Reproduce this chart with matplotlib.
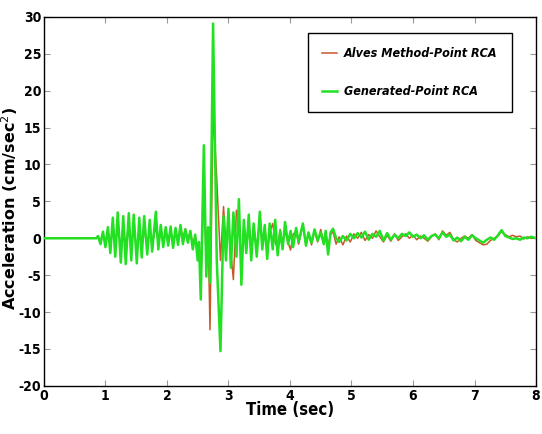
import numpy as np
import matplotlib
matplotlib.use('Agg')
import matplotlib.pyplot as plt
from matplotlib import font_manager

plt.rcParams['axes.unicode_minus'] = False

# time samples (sec) and accelerations (cm/sec^2)
time_sec = [0.00, 0.85, 0.88, 0.92, 0.96, 1.00, 1.04, 1.08, 1.12, 1.16, 1.20, 1.25, 1.29,
            1.33, 1.38, 1.42, 1.46, 1.51, 1.55, 1.59, 1.63, 1.68, 1.72, 1.76, 1.82, 1.86,
            1.90, 1.94, 1.98, 2.02, 2.06, 2.10, 2.14, 2.18, 2.22, 2.26, 2.30, 2.34, 2.38,
            2.42, 2.46, 2.50, 2.52, 2.55, 2.60, 2.64, 2.67, 2.70, 2.75, 2.81, 2.87, 2.92,
            2.96, 3.00, 3.04, 3.08, 3.13, 3.17, 3.21, 3.25, 3.29, 3.33, 3.37, 3.41, 3.46,
            3.51, 3.55, 3.59, 3.63, 3.67, 3.72, 3.76, 3.80, 3.84, 3.88, 3.92, 3.97, 4.01,
            4.05, 4.10, 4.14, 4.21, 4.26, 4.30, 4.35, 4.40, 4.45, 4.50, 4.55, 4.58, 4.62,
            4.66, 4.70, 4.75, 4.80, 4.86, 4.92, 4.98, 5.04, 5.10, 5.16, 5.22, 5.28, 5.34,
            5.40, 5.46, 5.52, 5.58, 5.64, 5.70, 5.76, 5.82, 5.88, 5.94, 6.00, 6.06, 6.12,
            6.18, 6.24, 6.30, 6.36, 6.42, 6.48, 6.54, 6.60, 6.66, 6.72, 6.78, 6.84, 6.90,
            6.96, 7.02, 7.08, 7.14, 7.20, 7.26, 7.32, 7.38, 7.44, 7.50, 7.56, 7.62, 7.68,
            7.74, 7.80, 7.86, 7.92, 8.00]

generated = [0.0, 0.0, 0.3, -0.8, 0.9, -1.2, 1.5, -2.0, 2.8, -2.5, 3.5, -3.3, 3.0,
             -3.5, 3.4, -3.0, 3.2, -3.4, 2.8, -2.6, 3.0, -2.2, 2.5, -1.8, 3.6, -1.5,
             1.8, -1.2, 1.5, -1.0, 1.6, -1.3, 1.4, -0.9, 1.8, -0.8, 1.2, -0.6, 1.0,
             -1.5, 0.5, -3.0, -0.5, -8.3, 12.6, -5.2, 1.5, -6.0, 29.1, -3.0, -15.3, 3.0,
             -3.0, 4.0, -4.0, 3.5, -2.5, 5.3, -6.3, 2.5, -2.0, 3.2, -3.0, 2.0, -2.5,
             3.6, -1.5, 1.8, -2.8, 2.0, -1.5, 2.5, -2.3, 1.0, -1.5, 2.2, -0.8, 1.0,
             -1.2, 1.4, -0.5, 2.0, -1.0, 0.8, -0.6, 1.2, -0.3, 0.8, -0.8, 1.0, -2.2,
             0.8, 1.3, 0.0, -0.5, 0.3, -0.3, 0.6, 0.0, 0.7, 0.1, 0.9, -0.2, 0.6,
             0.2, 1.0, -0.3, 0.7, -0.2, 0.5, 0.0, 0.6, 0.3, 0.8, 0.2, 0.5, 0.0,
             0.4, -0.2, 0.3, 0.5, 0.0, 0.8, 0.2, 0.5, -0.3, 0.1, -0.4, 0.2, -0.2,
             0.4, 0.0, -0.3, -0.6, -0.2, 0.1, -0.2, 0.4, 1.1, 0.3, 0.1, -0.1, 0.0,
             -0.2, 0.1, 0.0, 0.2, 0.0]

alves = [0.0, 0.0, 0.2, -0.3, 0.6, -0.5, 1.0, -0.8, 1.2, -1.0, 1.5, -1.2, 1.6,
         -1.0, 1.8, -1.3, 1.2, -1.5, 1.4, -1.0, 1.3, -1.2, 1.0, -0.8, 1.5, -0.6,
         1.2, -0.5, 0.8, -0.3, 1.0, -0.5, 0.9, -0.2, 1.6, 0.0, 1.3, -0.3, 1.0,
         -0.8, 0.3, -2.0, -0.5, -6.0, 6.0, -3.0, 1.0, -12.4, 17.4, 8.0, -3.0, 4.3,
         -1.0, 2.5, -2.0, -5.6, 3.8, 2.0, -3.5, 1.5, -1.6, 1.8, -1.5, 1.5, -1.2,
         2.0, -0.5, 1.5, -1.8, 0.8, 2.0, -0.5, -1.5, 1.2, -0.8, 1.0, -0.6, -1.6,
         0.5, 1.0, -0.8, 1.8, -0.8, 0.6, -0.9, 1.0, -0.5, 1.2, -0.6, 0.8, -1.0,
         0.5, 0.9, -0.8, 0.2, -0.9, 0.3, -0.5, 0.6, 0.0, 0.8, -0.3, 0.5, 0.0,
         1.0, 0.2, -0.5, 0.4, -0.4, 0.6, -0.3, 0.2, 0.6, 0.0, 0.4, -0.2, 0.3,
         0.0, -0.4, 0.2, 0.6, -0.2, 1.0, 0.4, 0.8, -0.2, -0.5, 0.0, 0.3, 0.0,
         0.5, -0.3, -0.6, -0.9, -0.8, -0.3, 0.0, 0.3, 0.9, 0.5, 0.2, 0.4, 0.2,
         0.3, -0.1, 0.2, 0.0, 0.1]

series_labels = ['Alves Method-Point RCA', 'Generated-Point RCA']
x_ticks = [0, 1, 2, 3, 4, 5, 6, 7, 8]
y_ticks = [-20, -15, -10, -5, 0, 5, 10, 15, 20, 25, 30]

# a condensed face if one is installed, else plain Liberation Sans
narrow_props = dict(family='Liberation Sans', stretch='normal')
for f in font_manager.fontManager.ttflist:
    if 'Narrow' in f.name or (f.name == 'DejaVu Sans' and 'ondensed' in f.fname):
        narrow_props = dict(family=f.name, stretch=f.stretch)
        break

fig = plt.figure(figsize=(5.42, 4.34), dpi=100)
ax = fig.add_axes([0.081, 0.111, 0.908, 0.850])

t = np.array(time_sec)
ax.plot(t, alves, color='#c8582a', lw=1.1, label=series_labels[0], zorder=2)
ax.plot(t, generated, color='#22e022', lw=1.8, label=series_labels[1], zorder=3)

ax.set_xlim(0, 8)
ax.set_ylim(-20, 30)
ax.set_xticks(x_ticks)
ax.set_yticks(y_ticks)
ax.tick_params(direction='in', top=True, right=True, length=4, color='#999999',
               labelsize=10, pad=2)
for lab in ax.get_xticklabels() + ax.get_yticklabels():
    lab.set_fontfamily(narrow_props['family'])
    lab.set_fontstretch(narrow_props['stretch'])
    lab.set_fontweight('bold')
for sp in ax.spines.values():
    sp.set_linewidth(1.0)

ax.set_xlabel('Time (sec)', fontfamily=narrow_props['family'],
              fontstretch=narrow_props['stretch'], fontweight='bold', fontsize=12,
              labelpad=-1)
ax.set_ylabel('Acceleration (cm/sec$^2$)', fontfamily='DejaVu Sans',
              fontweight='bold', fontsize=11.5)
ax.yaxis.set_label_coords(-0.048, 0.48)

h, l = ax.get_legend_handles_labels()
leg = ax.legend(h, l, loc='upper right', bbox_to_anchor=(0.963, 0.973),
                frameon=True, fancybox=False, edgecolor='black', framealpha=1,
                handlelength=1.2, labelspacing=2.0, borderpad=1.1, handletextpad=0.6,
                prop={'family': narrow_props['family'], 'stretch': narrow_props['stretch'],
                      'weight': 'bold', 'style': 'italic', 'size': 9})
leg.get_frame().set_linewidth(1.0)

fig.savefig('out.png', dpi=100)
